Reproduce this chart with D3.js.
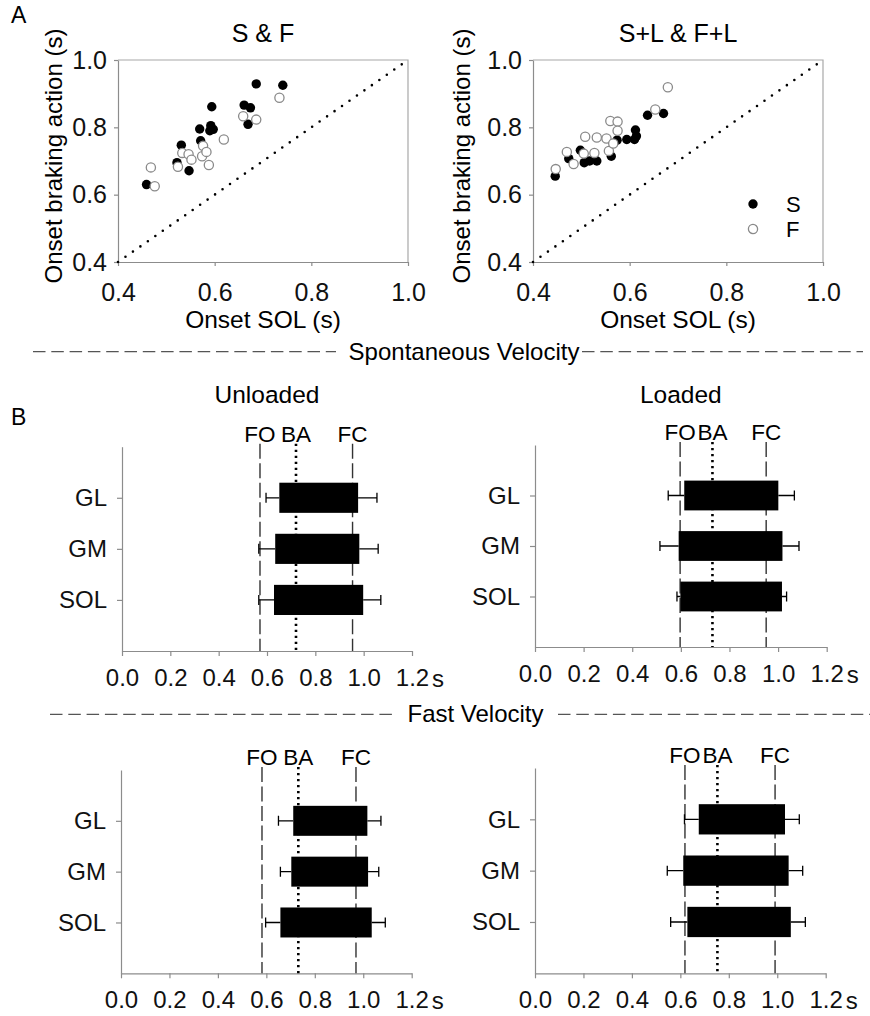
<!DOCTYPE html>
<html>
<head>
<meta charset="utf-8">
<script src="https://cdn.jsdelivr.net/npm/d3@7"></script>
<style>
  html, body { margin: 0; padding: 0; background: #fff; }
  svg { display: block; font-family: 'Liberation Sans', Arial, sans-serif; }
</style>
</head>
<body>
<svg id="chart" width="870" height="1016"></svg>
<script>
'use strict';

// A: onset SOL (x) vs onset braking action (y), seconds
const sfSlow = [
  [0.459, 0.630], [0.531, 0.747], [0.522, 0.695], [0.547, 0.671], [0.569, 0.795],
  [0.571, 0.760], [0.592, 0.805], [0.597, 0.794], [0.590, 0.790], [0.594, 0.861],
  [0.661, 0.866], [0.674, 0.858], [0.669, 0.809], [0.686, 0.929], [0.741, 0.925],
];
const sfFast = [
  [0.468, 0.681], [0.476, 0.625], [0.524, 0.683], [0.533, 0.724], [0.546, 0.720],
  [0.552, 0.704], [0.574, 0.714], [0.576, 0.745], [0.583, 0.727], [0.588, 0.688],
  [0.619, 0.764], [0.659, 0.833], [0.686, 0.823], [0.734, 0.888],
];
const slSlow = [
  [0.446, 0.655], [0.474, 0.707], [0.498, 0.732], [0.506, 0.695], [0.517, 0.700],
  [0.532, 0.700], [0.562, 0.714], [0.574, 0.762], [0.594, 0.764], [0.610, 0.764],
  [0.612, 0.792], [0.614, 0.774], [0.637, 0.836], [0.670, 0.841],
];
const slFast = [
  [0.447, 0.676], [0.470, 0.727], [0.484, 0.691], [0.505, 0.722], [0.508, 0.772],
  [0.527, 0.724], [0.532, 0.770], [0.552, 0.767], [0.557, 0.730], [0.560, 0.819],
  [0.575, 0.817], [0.575, 0.790], [0.566, 0.752], [0.653, 0.853], [0.679, 0.919],
];
const scatterTicks = [0.4, 0.6, 0.8, 1.0];

// B: EMG bursts per muscle, rows are [onset, offset, onset - SD, offset + SD]
const muscles = ['GL', 'GM', 'SOL'];
const eventNames = ['FO', 'BA', 'FC'];
const barTicks = [0, 0.2, 0.4, 0.6, 0.8, 1.0, 1.2];

const spontUnloaded = [[0.651, 0.977, 0.596, 1.055], [0.634, 0.982, 0.566, 1.060], [0.629, 0.998, 0.566, 1.071]];
const spontLoaded = [[0.614, 1.001, 0.548, 1.067], [0.591, 1.018, 0.514, 1.086], [0.598, 1.016, 0.584, 1.035]];
const fastUnloaded = [[0.711, 1.017, 0.650, 1.073], [0.703, 1.020, 0.658, 1.064], [0.658, 1.035, 0.597, 1.091]];
const fastLoaded = [[0.676, 1.032, 0.617, 1.091], [0.612, 1.047, 0.546, 1.105], [0.629, 1.056, 0.560, 1.116]];

// FO, BA, FC times
const spontUnloadedEvents = [0.571, 0.720, 0.954];
const spontLoadedEvents = [0.597, 0.730, 0.951];
const fastUnloadedEvents = [0.582, 0.732, 0.970];
const fastLoadedEvents = [0.619, 0.753, 0.991];

const AXIS_GREY = '#8c8c8c';
const svg = d3.select('#chart');

const styleAxis = (sel, fontSize) => {
  sel.attr('font-family', null).attr('font-size', fontSize);
  sel.select('.domain').attr('stroke', AXIS_GREY).attr('stroke-width', 1.2);
  sel.selectAll('.tick line').attr('stroke', AXIS_GREY).attr('stroke-width', 1.2);
  sel.selectAll('.tick text').attr('fill', '#111');
};

const drawScatter = (box, title, sPts, fPts, yTitleX, showLegend) => {
  const x = d3.scaleLinear().domain([0.4, 1.0]).range([box.x0, box.x1]);
  const y = d3.scaleLinear().domain([0.4, 1.0]).range([box.y1, box.y0]);
  const g = svg.append('g');

  g.append('path')
    .attr('d', `M${box.x0},${box.y0}H${box.x1}V${box.y1}`)
    .attr('fill', 'none')
    .attr('stroke', '#a8a8a8')
    .attr('stroke-width', 1.2);

  g.append('g')
    .attr('transform', `translate(0,${box.y1})`)
    .call(d3.axisBottom(x).tickValues(scatterTicks).tickFormat(d3.format('.1f'))
      .tickSize(4).tickSizeOuter(0).tickPadding(17))
    .call(styleAxis, 25);
  g.append('g')
    .attr('transform', `translate(${box.x0},0)`)
    .call(d3.axisLeft(y).tickValues(scatterTicks).tickFormat(d3.format('.1f'))
      .tickSize(4).tickSizeOuter(0).tickPadding(7))
    .call(styleAxis, 25);

  // identity line
  g.append('line')
    .attr('x1', x(0.4)).attr('y1', y(0.4))
    .attr('x2', x(1.0)).attr('y2', y(1.0))
    .attr('stroke', '#000')
    .attr('stroke-width', 2.6)
    .attr('stroke-linecap', 'round')
    .attr('stroke-dasharray', '0,9.1');

  g.append('g').selectAll('circle')
    .data(sPts)
    .join('circle')
    .attr('cx', (d) => x(d[0]))
    .attr('cy', (d) => y(d[1]))
    .attr('r', 4.7)
    .attr('fill', '#000');
  g.append('g').selectAll('circle')
    .data(fPts)
    .join('circle')
    .attr('cx', (d) => x(d[0]))
    .attr('cy', (d) => y(d[1]))
    .attr('r', 4.6)
    .attr('fill', '#fff')
    .attr('stroke', '#8a8a8a')
    .attr('stroke-width', 1.3);

  g.append('text')
    .attr('x', (box.x0 + box.x1) / 2).attr('y', 42)
    .attr('text-anchor', 'middle').attr('font-size', 25)
    .text(title);
  g.append('text')
    .attr('x', (box.x0 + box.x1) / 2).attr('y', 328)
    .attr('text-anchor', 'middle').attr('font-size', 24.5)
    .text('Onset SOL (s)');
  g.append('text')
    .attr('transform', `translate(${yTitleX},156) rotate(-90)`)
    .attr('text-anchor', 'middle').attr('font-size', 24)
    .text('Onset braking action (s)');

  if (showLegend) {
    const lg = g.append('g').attr('transform', 'translate(753,204)');
    lg.append('circle').attr('r', 4.7).attr('fill', '#000');
    lg.append('circle').attr('cy', 25).attr('r', 4.6)
      .attr('fill', '#fff').attr('stroke', '#8a8a8a').attr('stroke-width', 1.3);
    lg.append('text').attr('x', 33).attr('y', 8).attr('font-size', 22).text('S');
    lg.append('text').attr('x', 33).attr('y', 33).attr('font-size', 22).text('F');
  }
};

const drawBars = (box, title, rows, events) => {
  const x = d3.scaleLinear().domain([0, 1.2]).range([box.x0, box.x1]);
  const y = d3.scaleLinear().domain([0, 4]).range([box.y1, box.y0]);
  const slot = (i) => y(3 - i);
  const barH = (y(0) - y(1)) * 0.59;
  const g = svg.append('g');

  g.append('g')
    .attr('transform', `translate(0,${box.y1})`)
    .call(d3.axisBottom(x).tickValues(barTicks).tickFormat(d3.format('.1f'))
      .tickSize(5).tickSizeOuter(0).tickPadding(13))
    .call(styleAxis, 24);
  g.append('text')
    .attr('x', x(1.2) + 20).attr('y', box.y1 + 36)
    .attr('font-size', 24).attr('fill', '#111')
    .text('s');
  g.append('g')
    .attr('transform', `translate(${box.x0},0)`)
    .call(d3.axisLeft(y).tickValues([1, 2, 3]).tickFormat((v) => muscles[3 - v])
      .tickSize(5).tickSizeOuter(0).tickPadding(10))
    .call(styleAxis, 24);

  // gait events: foot off, braking action, foot contact
  g.append('g').selectAll('line')
    .data(events)
    .join('line')
    .attr('x1', (d) => x(d)).attr('x2', (d) => x(d))
    .attr('y1', box.y0 - 3).attr('y2', box.y1)
    .attr('stroke', (d, i) => (i === 1 ? '#000' : '#333'))
    .attr('stroke-width', (d, i) => (i === 1 ? 2.6 : 1.4))
    .attr('stroke-dasharray', (d, i) => (i === 1 ? '2.2,3.8' : '15,4.5'));
  g.append('g').selectAll('text')
    .data(events)
    .join('text')
    .attr('x', (d) => x(d)).attr('y', box.y0 - 5)
    .attr('text-anchor', 'middle').attr('font-size', 22.5)
    .text((d, i) => eventNames[i]);

  const whiskers = g.append('g').attr('stroke', '#000').attr('stroke-width', 1.3);
  rows.forEach((r, i) => {
    const cy = slot(i);
    whiskers.append('path')
      .attr('d', `M${x(r[2])},${cy}H${x(r[0])}M${x(r[1])},${cy}H${x(r[3])}`
        + `M${x(r[2])},${cy - 5}V${cy + 5}M${x(r[3])},${cy - 5}V${cy + 5}`);
  });
  g.append('g').selectAll('rect')
    .data(rows)
    .join('rect')
    .attr('x', (d) => x(d[0]))
    .attr('y', (d, i) => slot(i) - barH / 2)
    .attr('width', (d) => x(d[1]) - x(d[0]))
    .attr('height', barH)
    .attr('fill', '#000');

  g.append('text')
    .attr('x', (box.x0 + box.x1) / 2).attr('y', box.titleY)
    .attr('text-anchor', 'middle').attr('font-size', 24.5)
    .text(title);
};

const drawSeparator = (label, yPos, leftSpan, rightSpan, textX) => {
  const g = svg.append('g');
  [leftSpan, rightSpan].forEach((span) => {
    g.append('line')
      .attr('x1', span[0]).attr('x2', span[1])
      .attr('y1', yPos).attr('y2', yPos)
      .attr('stroke', '#555')
      .attr('stroke-width', 1.3)
      .attr('stroke-dasharray', '12.5,5.8');
  });
  g.append('text')
    .attr('x', textX).attr('y', yPos + 8)
    .attr('text-anchor', 'middle').attr('font-size', 24)
    .text(label);
};

svg.append('text').attr('x', 11).attr('y', 23).attr('font-size', 23).text('A');
svg.append('text').attr('x', 11).attr('y', 425).attr('font-size', 23).text('B');

drawScatter({ x0: 118, x1: 408, y0: 60, y1: 262 }, 'S & F', sfSlow, sfFast, 62, false);
drawScatter({ x0: 533, x1: 823, y0: 60, y1: 262 }, 'S+L & F+L', slSlow, slFast, 470, true);

drawSeparator('Spontaneous Velocity', 351.7, [33, 336], [582, 863], 464);
drawBars({ x0: 122, x1: 412, y0: 446.7, y1: 651, titleY: 403 }, 'Unloaded', spontUnloaded, spontUnloadedEvents);
drawBars({ x0: 535, x1: 826.7, y0: 445, y1: 647, titleY: 403 }, 'Loaded', spontLoaded, spontLoadedEvents);

drawSeparator('Fast Velocity', 714.3, [50, 394], [558, 870], 475.5);
drawBars({ x0: 121, x1: 411.7, y0: 770, y1: 973.3, titleY: 0 }, '', fastUnloaded, fastUnloadedEvents);
drawBars({ x0: 535, x1: 825.7, y0: 768, y1: 973.3, titleY: 0 }, '', fastLoaded, fastLoadedEvents);
</script>
</body>
</html>
